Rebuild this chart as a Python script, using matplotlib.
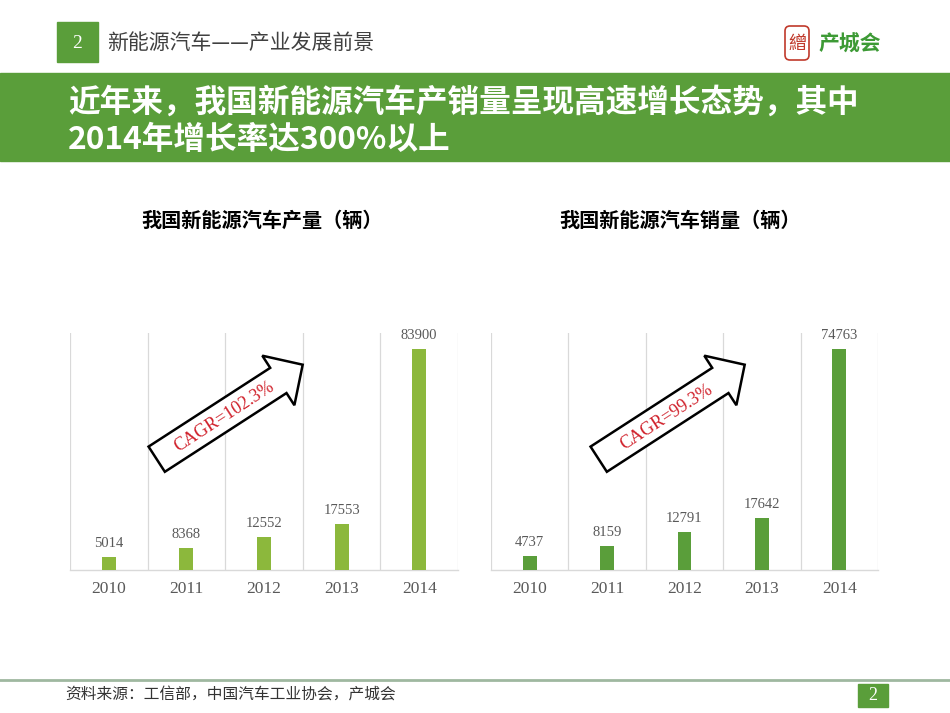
import matplotlib.pyplot as plt
from matplotlib.patches import Rectangle, FancyArrow, FancyBboxPatch

plt.rcParams['font.family'] = ['Noto Sans CJK SC', 'DejaVu Sans']

# data
years = ['2010', '2011', '2012', '2013', '2014']
production = [5014, 8368, 12552, 17553, 83900]
sales = [4737, 8159, 12791, 17642, 74763]
cagr_labels = ['CAGR=102.3%', 'CAGR=99.3%']
chart_titles = ['我国新能源汽车产量（辆）', '我国新能源汽车销量（辆）']
header_text = '新能源汽车——产业发展前景'
banner_lines = ['近年来，我国新能源汽车产销量呈现高速增长态势，其中',
                '2014年增长率达300%以上']
source_text = '资料来源：工信部，中国汽车工业协会，产城会'

GREEN = '#5a9e3a'
LIGHT_GREEN = '#8cb83c'
GREY = '#595959'
GRID = '#d9d9d9'
SERIF = ['Liberation Serif', 'DejaVu Serif']

fig = plt.figure(figsize=(9.5, 7.13), dpi=100)
W, H = 950, 713


def draw_chart(rect, values, color, ymax):
    ax = fig.add_axes(rect)
    x = range(len(values))
    bars = ax.bar(x, values, width=0.18, color=color, zorder=3)
    ax.bar_label(bars, labels=[str(v) for v in values], padding=5,
                 fontsize=10.5, color=GREY, family=SERIF)
    ax.set_xlim(-0.5, len(values) - 0.5)
    ax.set_ylim(0, ymax)
    for b in range(len(values) + 1):
        ax.axvline(b - 0.5, color=GRID, lw=0.9, zorder=1)
    for s in ['top', 'left', 'right']:
        ax.spines[s].set_visible(False)
    ax.spines['bottom'].set_color(GRID)
    ax.spines['bottom'].set_linewidth(1.0)
    ax.set_yticks([])
    ax.set_xticks(list(x))
    ax.set_xticklabels(years, family=SERIF, fontsize=12.5, color=GREY)
    ax.tick_params(axis='x', length=0, pad=8)
    ax.patch.set_visible(False)
    return ax


ax1 = draw_chart([70 / W, 143 / H, 388 / W, 237 / H], production, LIGHT_GREEN, 90000)
ax2 = draw_chart([491 / W, 143 / H, 387 / W, 237 / H], sales, GREEN, 80000)

# overlay in pixel coordinates for slide decorations
ov = fig.add_axes([0, 0, 1, 1], zorder=5)
ov.set_xlim(0, W)
ov.set_ylim(H, 0)
ov.axis('off')

# header
ov.add_patch(Rectangle((57, 22), 41, 40, color=GREEN))
ov.text(77.5, 43, '2', color='white', fontsize=14, family=SERIF, ha='center', va='center')
ov.text(107, 43, header_text, fontsize=15, color='#404040', ha='left', va='center')

# logo
ov.add_patch(FancyBboxPatch((786, 27), 22, 32, boxstyle='round,pad=1,rounding_size=5',
                            fc='white', ec='#c0392b', lw=1.2))
ov.text(797, 43.5, '繒', color='#c0392b', fontsize=13, ha='center', va='center')
ov.text(850, 44, '产城会', color='#3d9a35', fontsize=15, fontweight='bold',
        ha='center', va='center')

# banner
ov.add_patch(Rectangle((0, 73), W, 88, color=GREEN))
ov.text(68, 103, banner_lines[0], color='white', fontsize=22.8, fontweight='bold',
        ha='left', va='center')
ov.text(68, 140, banner_lines[1], color='white', fontsize=22.8, fontweight='bold',
        ha='left', va='center')

# chart titles
ov.text(262, 220, chart_titles[0], fontsize=14.5, fontweight='bold', ha='center', va='center')
ov.text(680, 220, chart_titles[1], fontsize=14.5, fontweight='bold', ha='center', va='center')

# CAGR arrows
for tail_x, label in zip([156.7, 598.7], cagr_labels):
    ov.add_patch(FancyArrow(tail_x, 459.2, 146, -94.5, width=30, head_width=59,
                            head_length=29, length_includes_head=True,
                            fc='white', ec='black', lw=1.8))
    ov.text(tail_x + 68, 417, label, color='#d0202a', fontsize=13, family=SERIF,
            rotation=33, rotation_mode='anchor', ha='center', va='center')

# footer
ov.plot([0, W], [680, 680], color='#9fb8a0', lw=2)
ov.text(65, 695, source_text, fontsize=11.3, color='#333333', ha='left', va='center')
ov.add_patch(Rectangle((858, 684), 30, 23, color=GREEN))
ov.text(873, 695.5, '2', color='white', fontsize=13, family=SERIF, ha='center', va='center')

fig.savefig('out.png', dpi=100)
